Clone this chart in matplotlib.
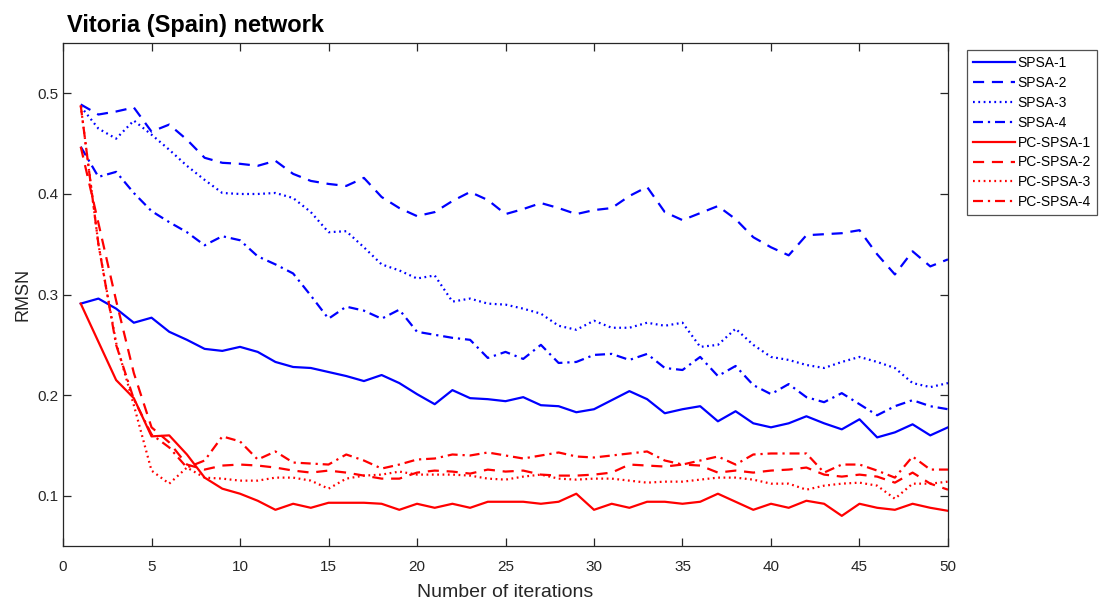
import matplotlib
matplotlib.use("Agg")
import matplotlib.pyplot as plt
import numpy as np

# iterations 1..50
iterations = np.arange(1, 51)

spsa_1 = [0.291, 0.296, 0.286, 0.272, 0.277, 0.263, 0.255, 0.246, 0.244, 0.248,
          0.243, 0.233, 0.228, 0.227, 0.223, 0.219, 0.214, 0.220, 0.212, 0.201,
          0.191, 0.205, 0.197, 0.196, 0.194, 0.198, 0.190, 0.189, 0.183, 0.186,
          0.195, 0.204, 0.196, 0.182, 0.186, 0.189, 0.174, 0.184, 0.172, 0.168,
          0.172, 0.179, 0.172, 0.166, 0.176, 0.158, 0.163, 0.171, 0.160, 0.168]
spsa_2 = [0.489, 0.479, 0.482, 0.486, 0.462, 0.469, 0.454, 0.436, 0.431, 0.430,
          0.428, 0.433, 0.420, 0.413, 0.410, 0.408, 0.416, 0.397, 0.386, 0.378,
          0.382, 0.393, 0.402, 0.394, 0.380, 0.385, 0.391, 0.386, 0.380, 0.384,
          0.386, 0.398, 0.407, 0.382, 0.374, 0.381, 0.388, 0.375, 0.357, 0.347,
          0.339, 0.359, 0.360, 0.361, 0.364, 0.340, 0.320, 0.343, 0.328, 0.335]
spsa_3 = [0.487, 0.465, 0.455, 0.473, 0.459, 0.444, 0.428, 0.414, 0.401, 0.400,
          0.400, 0.401, 0.396, 0.382, 0.362, 0.363, 0.347, 0.330, 0.324, 0.316,
          0.319, 0.293, 0.296, 0.291, 0.290, 0.286, 0.281, 0.269, 0.265, 0.274,
          0.267, 0.267, 0.272, 0.269, 0.272, 0.248, 0.250, 0.266, 0.250, 0.238,
          0.235, 0.230, 0.227, 0.233, 0.238, 0.233, 0.227, 0.212, 0.208, 0.212]
spsa_4 = [0.447, 0.417, 0.422, 0.401, 0.383, 0.372, 0.362, 0.349, 0.358, 0.354,
          0.338, 0.330, 0.321, 0.299, 0.276, 0.288, 0.284, 0.276, 0.285, 0.263,
          0.260, 0.257, 0.255, 0.237, 0.243, 0.236, 0.250, 0.232, 0.233, 0.240,
          0.241, 0.235, 0.241, 0.227, 0.225, 0.238, 0.219, 0.229, 0.210, 0.201,
          0.211, 0.198, 0.193, 0.202, 0.191, 0.180, 0.189, 0.195, 0.189, 0.186]

pc_spsa_1 = [0.291, 0.253, 0.215, 0.197, 0.159, 0.160, 0.141, 0.118, 0.107, 0.102,
             0.095, 0.086, 0.092, 0.088, 0.093, 0.093, 0.093, 0.092, 0.086, 0.092,
             0.088, 0.092, 0.088, 0.094, 0.094, 0.094, 0.092, 0.094, 0.102, 0.086,
             0.092, 0.088, 0.094, 0.094, 0.092, 0.094, 0.102, 0.094, 0.086, 0.092,
             0.088, 0.095, 0.092, 0.080, 0.092, 0.088, 0.086, 0.092, 0.088, 0.085]
pc_spsa_2 = [0.447, 0.371, 0.294, 0.222, 0.168, 0.153, 0.131, 0.126, 0.130, 0.131,
             0.130, 0.128, 0.125, 0.123, 0.125, 0.123, 0.120, 0.117, 0.117, 0.123,
             0.125, 0.124, 0.122, 0.126, 0.124, 0.125, 0.121, 0.120, 0.120, 0.121,
             0.123, 0.131, 0.130, 0.129, 0.131, 0.130, 0.123, 0.125, 0.123, 0.125,
             0.126, 0.128, 0.121, 0.119, 0.121, 0.119, 0.113, 0.123, 0.112, 0.106]
pc_spsa_3 = [0.488, 0.350, 0.252, 0.190, 0.125, 0.112, 0.128, 0.118, 0.117, 0.115,
             0.115, 0.118, 0.118, 0.115, 0.107, 0.117, 0.120, 0.121, 0.124, 0.121,
             0.121, 0.121, 0.120, 0.117, 0.116, 0.119, 0.121, 0.117, 0.116, 0.117,
             0.117, 0.115, 0.113, 0.114, 0.114, 0.116, 0.118, 0.118, 0.116, 0.112,
             0.112, 0.106, 0.110, 0.112, 0.113, 0.110, 0.097, 0.112, 0.112, 0.114]
pc_spsa_4 = [0.488, 0.350, 0.250, 0.196, 0.161, 0.148, 0.128, 0.135, 0.159, 0.154,
             0.136, 0.144, 0.133, 0.132, 0.131, 0.141, 0.135, 0.127, 0.131, 0.136,
             0.137, 0.141, 0.140, 0.143, 0.140, 0.137, 0.140, 0.143, 0.139, 0.138,
             0.140, 0.142, 0.144, 0.135, 0.131, 0.135, 0.139, 0.131, 0.141, 0.142,
             0.142, 0.142, 0.123, 0.131, 0.131, 0.125, 0.118, 0.139, 0.126, 0.126]

labels = ["SPSA-1", "SPSA-2", "SPSA-3", "SPSA-4",
          "PC-SPSA-1", "PC-SPSA-2", "PC-SPSA-3", "PC-SPSA-4"]

# matlab-ish line styles
styles = ["-", (0, (5, 3.5)), (0, (0.8, 1.6)), (0, (4.5, 2.2, 1, 2.2))]

plt.rcParams["font.family"] = ["Liberation Sans", "DejaVu Sans"]

fig = plt.figure(figsize=(11, 6.03), dpi=100)
ax = fig.add_axes([0.0573, 0.0945, 0.8045, 0.834])

series = [spsa_1, spsa_2, spsa_3, spsa_4, pc_spsa_1, pc_spsa_2, pc_spsa_3, pc_spsa_4]
for k, vals in enumerate(series):
    color = "#0000ff" if k < 4 else "#ff0000"
    ax.plot(iterations, vals, color=color, linestyle=styles[k % 4], lw=1.6, label=labels[k])

ax.set_xlim(0, 50)
ax.set_ylim(0.05, 0.55)
ax.set_xticks(np.arange(0, 51, 5))
ax.set_yticks([0.1, 0.2, 0.3, 0.4, 0.5])
ax.set_yticklabels(["0.1", "0.2", "0.3", "0.4", "0.5"])

ax.tick_params(direction="in", top=True, right=True, length=6, width=0.9,
               labelsize=11, colors="#262626")
ax.tick_params(axis="x", pad=10)
for sp in ax.spines.values():
    sp.set_color("#262626")
    sp.set_linewidth(0.9)

ax.set_xlabel("Number of iterations", fontsize=14, color="#262626", labelpad=7)
ax.set_ylabel("RMSN", fontsize=13, color="#262626", labelpad=4)
ax.set_title("Vitoria (Spain) network", fontsize=17, fontweight="bold", loc="left", pad=8, x=0.005)

leg = ax.legend(loc="upper left", bbox_to_anchor=(0.879, 0.917), bbox_transform=fig.transFigure,
                fontsize=10, frameon=True, fancybox=False, handlelength=3.0,
                handletextpad=0.2, labelspacing=0.42, borderpad=0.45, borderaxespad=0)
leg.get_frame().set_edgecolor("#262626")
leg.get_frame().set_linewidth(0.9)

fig.savefig("out.png", dpi=100)
